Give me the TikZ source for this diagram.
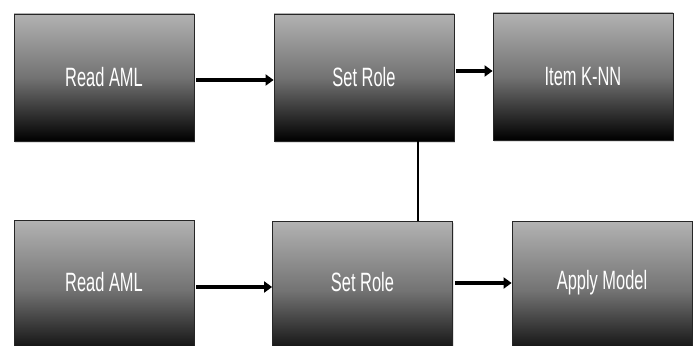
\documentclass[tikz,border=0pt]{standalone}
\usepackage{fontspec}
\setmainfont[FakeStretch=0.62]{Liberation Sans}
\usetikzlibrary{arrows.meta,shadows}
\begin{document}
\begin{tikzpicture}[x=1pt,y=-1pt,
  box/.style={draw=black!85,line width=0.8pt,top color=black!30,bottom color=black,
    middle color=black!55,shading angle=0,
    text=white,font=\fontsize{26.5}{28}\selectfont,
    drop shadow={shadow xshift=1pt,shadow yshift=-2pt,opacity=0.25},
    inner sep=0pt},
  lbl/.style={text=white,font=\fontsize{26.5}{28}\selectfont},
  flow/.style={line width=3.5pt,-{Triangle[length=8pt,width=11pt]}},
  link/.style={line width=2pt}]
\useasboundingbox (0,0) rectangle (698,345);
\begin{scope}
\clip (0,0) rectangle (698,345);
\node[box,minimum width=180pt,minimum height=127pt] (r1) at (104,77.5) {Read AML};
\node[box,minimum width=180pt,minimum height=127pt] (s1) at (364,77.5) {Set Role};
\node[box,minimum width=180pt,minimum height=127pt] (k) at (583,76.5) {Item K-NN};
\node[box,minimum width=180pt,minimum height=140pt] (r2) at (104,290) {};
\node[box,minimum width=180pt,minimum height=140pt] (s2) at (362.5,291) {};
\node[box,minimum width=180pt,minimum height=140pt] (a) at (602,291) {};
\node[lbl] (r2t) at (104,282) {Read AML};
\node[lbl] (s2t) at (362.5,282) {Set Role};
\node[lbl] (at) at (602,283) {Apply Model};
\end{scope}
\draw[flow] (r1.east |- 0,80) ++(2,0) -- (s1.west |- 0,80);
\draw[flow] (s1.east |- 0,71) ++(2,0) -- (k.west |- 0,71);
\draw[flow] (r2.east |- 0,287) ++(2,0) -- (s2.west |- 0,287);
\draw[flow] (s2.east |- 0,283) ++(2,0) -- (a.west |- 0,283);
\draw[link] (s1.south -| 418,0) -- (s2.north -| 418,0);
\end{tikzpicture}
\end{document}
